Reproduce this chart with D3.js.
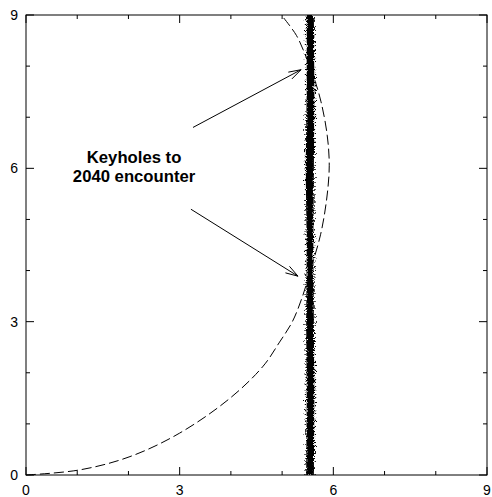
<!DOCTYPE html>
<html>
<head>
<meta charset="utf-8">
<script src="https://cdn.jsdelivr.net/npm/d3@7"></script>
<style>
  html, body { margin: 0; padding: 0; background: #fff; }
  svg { display: block; }
</style>
</head>
<body>
<div id="chart"></div>
<script>
// axis ticks
const majorTicks = [0, 3, 6, 9];
const minorTicks = [1, 2, 4, 5, 7, 8];

// dashed curve, points
const curveX = [0, 1.05, 2.03, 3.0, 3.98, 4.63, 4.95, 5.2, 5.4, 5.55, 5.75, 5.87, 5.92, 5.88, 5.76, 5.62, 5.48, 5.28, 5.0];
const curveY = [0, 0.10, 0.36, 0.82, 1.50, 2.13, 2.60, 3.0, 3.5, 4.00, 4.70, 5.40, 6.05, 6.65, 7.30, 7.78, 8.15, 8.60, 8.98];

// vertical band of points (edges read at several heights)
const bandY     = [0, 1.5, 3, 4.5, 6, 7.5, 9];
const bandLeft  = [5.47, 5.48, 5.47, 5.48, 5.46, 5.48, 5.48];
const bandRight = [5.62, 5.63, 5.62, 5.61, 5.62, 5.63, 5.62];

// annotation
const labelLines = ["Keyholes to", "2040 encounter"];
const labelPos = [2.11, 6.11];
const arrows = [
    { x1: 3.26, y1: 6.80, x2: 5.37, y2: 7.93 },
    { x1: 3.22, y1: 5.20, x2: 5.31, y2: 3.89 }
];

const width = 492, height = 497;
const margin = { top: 15, right: 5, bottom: 22, left: 26 };
const innerW = width - margin.left - margin.right;
const innerH = height - margin.top - margin.bottom;

const svg = d3.select("#chart").append("svg")
    .attr("width", width)
    .attr("height", height);

const defs = svg.append("defs");
defs.append("clipPath").attr("id", "plot-clip")
    .append("rect").attr("width", innerW).attr("height", innerH);

// 颗粒感滤镜
const grain = defs.append("filter").attr("id", "grain")
    .attr("x", "-50%").attr("y", "-2%").attr("width", "200%").attr("height", "104%");
grain.append("feTurbulence")
    .attr("type", "fractalNoise")
    .attr("baseFrequency", 0.9)
    .attr("numOctaves", 2)
    .attr("seed", 3)
    .attr("result", "noise");
grain.append("feDisplacementMap")
    .attr("in", "SourceGraphic")
    .attr("in2", "noise")
    .attr("scale", 5)
    .attr("xChannelSelector", "R")
    .attr("yChannelSelector", "G");

const g = svg.append("g")
    .attr("transform", `translate(${margin.left},${margin.top})`);

const x = d3.scaleLinear().domain([0, 9]).range([0, innerW]);
const y = d3.scaleLinear().domain([0, 9]).range([innerH, 0]);

const font = "'Liberation Sans', Arial, Helvetica, sans-serif";

// band
const bandData = bandY.map((v, i) => ({ y: v, l: bandLeft[i], r: bandRight[i] }));
const bandArea = d3.area()
    .y(d => y(d.y))
    .x0(d => x(d.l))
    .x1(d => x(d.r))
    .curve(d3.curveLinear);
const bandG = g.append("g").attr("clip-path", "url(#plot-clip)");
bandG.append("path")
    .datum(bandData)
    .attr("d", bandArea)
    .attr("fill", "#000")
    .attr("filter", "url(#grain)");
// dotted edges to look like scattered points
[bandLeft, bandRight].forEach((edge, k) => {
    const off = k === 0 ? -0.025 : 0.025;
    bandG.append("path")
        .datum(bandY.map((v, i) => [edge[i] + off, v]))
        .attr("d", d3.line().x(d => x(d[0])).y(d => y(d[1])))
        .attr("fill", "none")
        .attr("stroke", "#000")
        .attr("stroke-width", 1.2)
        .attr("stroke-dasharray", k === 0 ? "1,3,1,5" : "1,4,1,2")
        .attr("filter", "url(#grain)");
});

// dashed curve
const curveData = curveX.map((v, i) => [v, curveY[i]]);
g.append("path")
    .datum(curveData)
    .attr("d", d3.line().x(d => x(d[0])).y(d => y(d[1])).curve(d3.curveCatmullRom.alpha(0.5)))
    .attr("fill", "none")
    .attr("stroke", "#000")
    .attr("stroke-width", 1)
    .attr("stroke-dasharray", "10,4");

// frame
g.append("rect")
    .attr("x", 0).attr("y", 0)
    .attr("width", innerW).attr("height", innerH)
    .attr("fill", "none")
    .attr("stroke", "#000")
    .attr("stroke-width", 1);

// ticks, inward on all sides
const tickLine = (x1, y1, x2, y2) => g.append("line")
    .attr("x1", x1).attr("y1", y1).attr("x2", x2).attr("y2", y2)
    .attr("stroke", "#000").attr("stroke-width", 1);
[...majorTicks.map(t => [t, 8]), ...minorTicks.map(t => [t, 4])].forEach(([t, len]) => {
    tickLine(x(t), innerH, x(t), innerH - len);
    tickLine(x(t), 0, x(t), len);
    tickLine(0, y(t), len, y(t));
    tickLine(innerW, y(t), innerW - len, y(t));
});

// tick labels
majorTicks.forEach(t => {
    g.append("text")
        .attr("x", x(t))
        .attr("y", innerH + 20)
        .attr("text-anchor", "middle")
        .style("font-family", font)
        .style("font-size", "14px")
        .text(t);
    g.append("text")
        .attr("x", -8)
        .attr("y", y(t))
        .attr("text-anchor", "end")
        .attr("dominant-baseline", "central")
        .style("font-family", font)
        .style("font-size", "14px")
        .text(t);
});

// annotation text
labelLines.forEach((line, i) => {
    g.append("text")
        .attr("x", x(labelPos[0]))
        .attr("y", y(labelPos[1]) + i * 19)
        .attr("text-anchor", "middle")
        .style("font-family", font)
        .style("font-size", "16.7px")
        .style("font-weight", "bold")
        .text(line);
});

// arrows with open heads
arrows.forEach(a => {
    const x1 = x(a.x1), y1 = y(a.y1), x2 = x(a.x2), y2 = y(a.y2);
    tickLine(x1, y1, x2, y2);
    const ang = Math.atan2(y2 - y1, x2 - x1);
    const headLen = 13, spread = 0.3;
    [ang + Math.PI - spread, ang + Math.PI + spread].forEach(b => {
        tickLine(x2, y2, x2 + headLen * Math.cos(b), y2 + headLen * Math.sin(b));
    });
});
</script>
</body>
</html>
